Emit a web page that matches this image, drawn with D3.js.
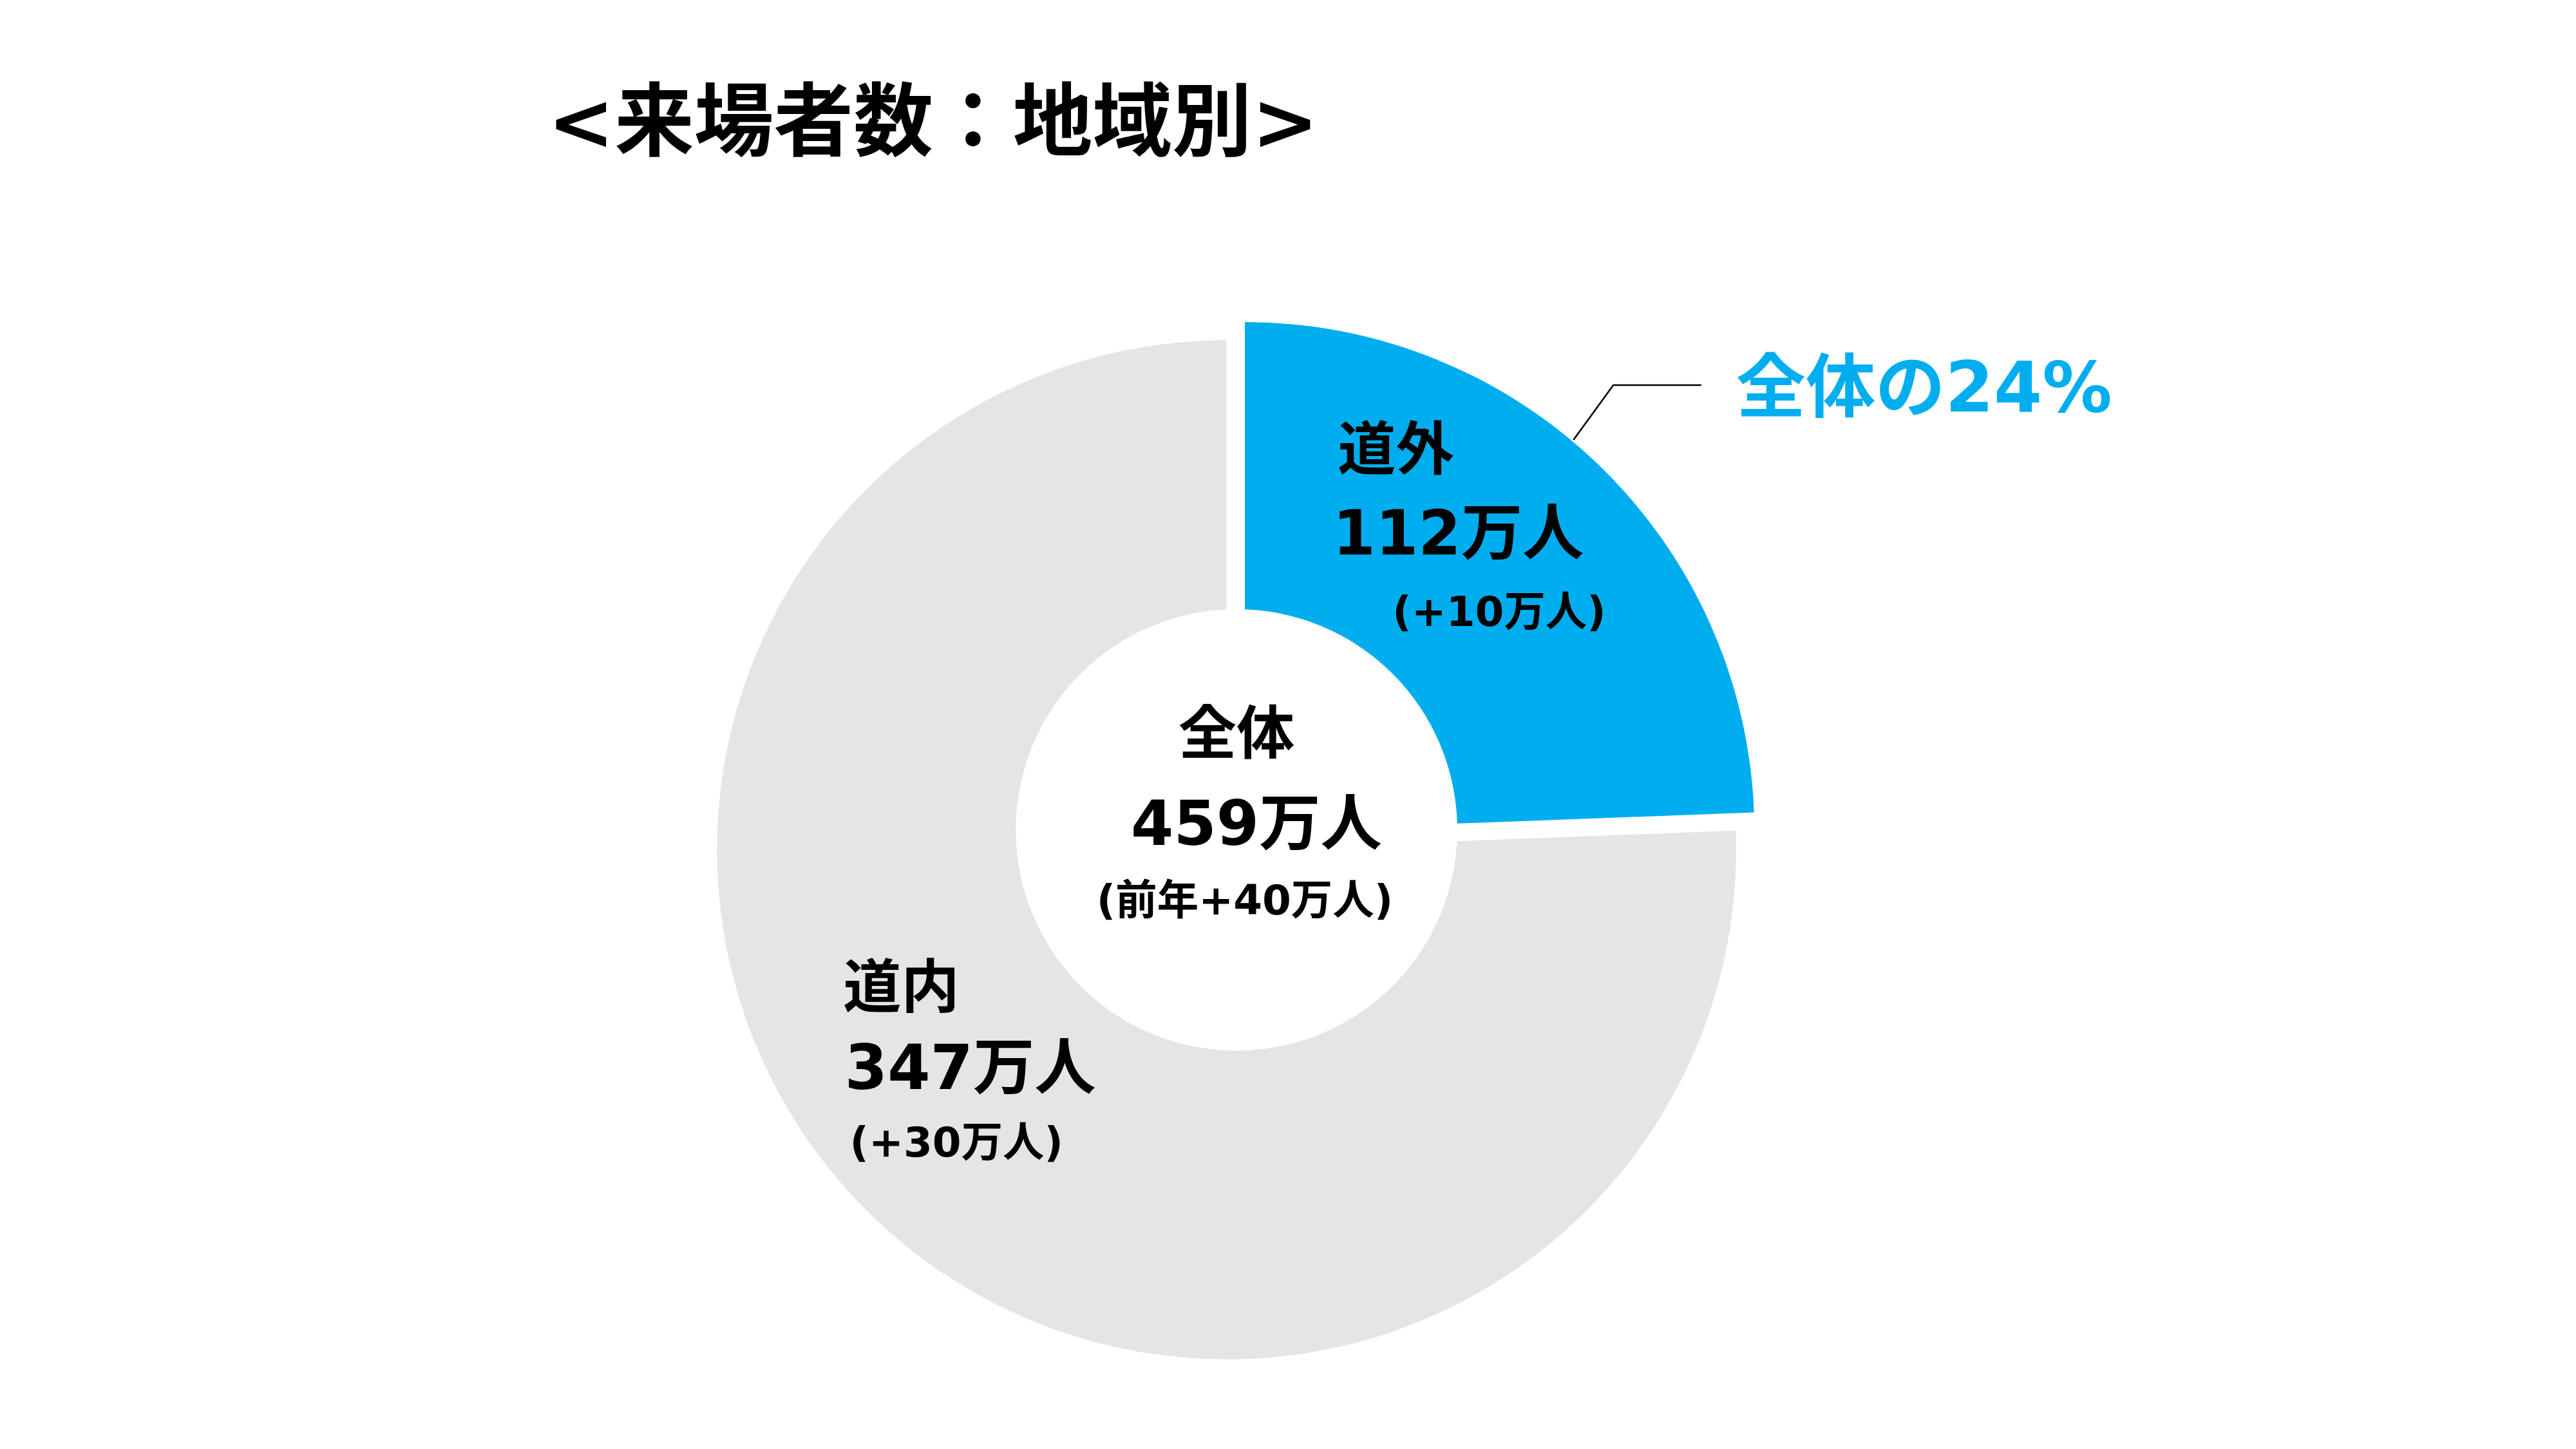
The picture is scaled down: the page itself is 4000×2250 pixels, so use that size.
<!DOCTYPE html>
<html><head><meta charset="utf-8">
<script src="https://cdn.jsdelivr.net/npm/d3@7"></script>
<style>body{margin:0;background:#fff}text{font-family:"DejaVu Sans","Noto Sans CJK JP",sans-serif;font-weight:bold}</style>
</head><body>
<script>
const categories = ["道外", "道内"];
const values = [112, 347];
const deltas = ["(+10万人)", "(+30万人)"];
const colors = ["#00AEEF", "#E5E5E5"];
const totalLabel = ["全体", "459万人", "(前年+40万人)"];
const title = "<来場者数：地域別>";
const callout = "全体の24%";

const svg = d3.select("body").append("svg").attr("width",4000).attr("height",2250)
  .attr("viewBox","0 0 1552 873");
svg.append("rect").attr("width",1552).attr("height",873).attr("fill","#fff");
const cx=739, cy=512;
const pie = d3.pie().sort(null)(values);
const arc = d3.arc().innerRadius(0).outerRadius(307);
const g = svg.append("g").attr("transform",`translate(${cx},${cy})`);
g.selectAll("path").data(pie).join("path")
  .attr("d",arc).attr("fill",(d,i)=>colors[i])
  .attr("transform",(d,i)=>i===0?"translate(11,-11)":null);
// white separators between slices
g.append("line").attr("x1",5).attr("y1",0).attr("x2",5).attr("y2",-320).attr("stroke","#fff").attr("stroke-width",10);
g.append("circle").attr("cx",6).attr("cy",-12).attr("r",133).attr("fill","#fff");

svg.append("text").attr("x",330).attr("y",90).attr("font-size",48).text(title);

function lbl(x,y,size,t,anchor){svg.append("text").attr("x",x).attr("y",y).attr("font-size",size)
  .attr("text-anchor",anchor||"start").text(t);}
lbl(806,283,35,categories[0]);
lbl(803,334,37,values[0]+"万人");
lbl(839,377,25,deltas[0]);
lbl(508,607,35,categories[1]);
lbl(509,656,37,values[1]+"万人");
lbl(512,697,25,deltas[1]);
lbl(745,454,35,totalLabel[0],"middle");
lbl(757,509,37,totalLabel[1],"middle");
lbl(750,551,25,totalLabel[2],"middle");

svg.append("polyline").attr("points","948,265 972,232 1025,232").attr("fill","none")
  .attr("stroke","#000").attr("stroke-width",1);
svg.append("text").attr("x",1046).attr("y",248).attr("font-size",42).attr("fill","#00AEEF")
  .text(callout);
</script>
</body></html>
